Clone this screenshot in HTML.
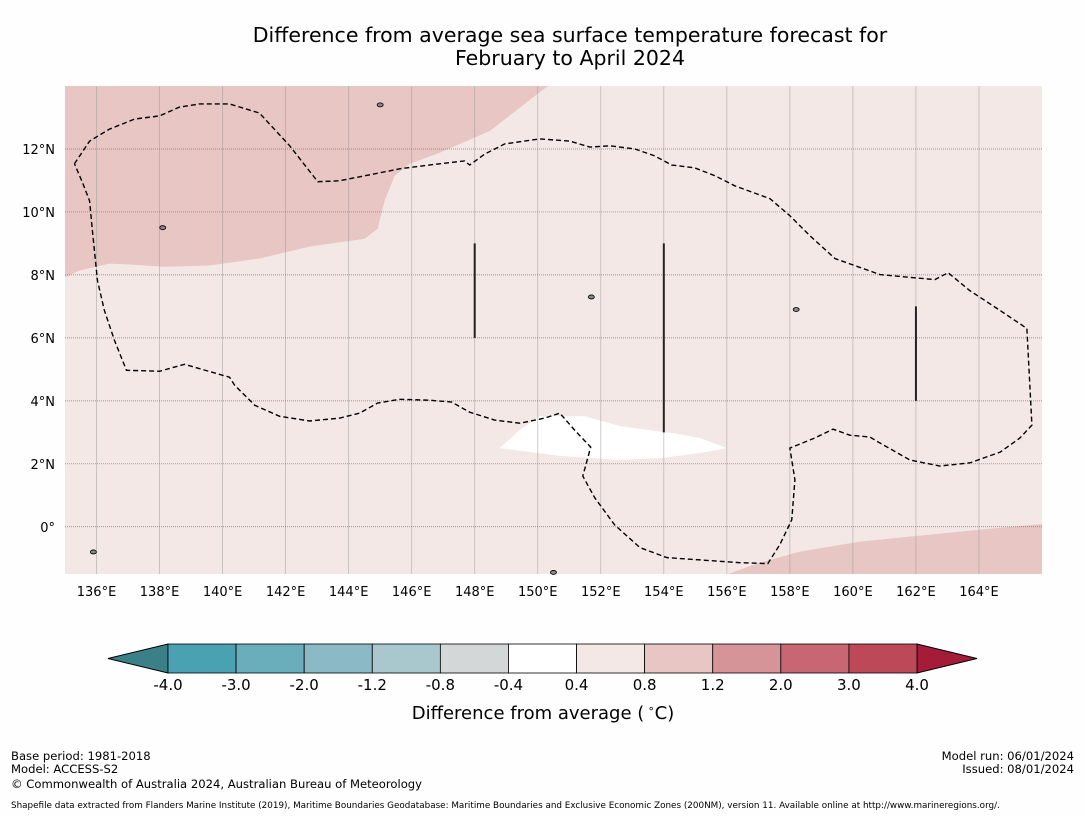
<!DOCTYPE html>
<html><head><meta charset="utf-8"><style>
body{margin:0;background:#fff;}
svg{display:block;font-family:"DejaVu Sans","Liberation Sans",sans-serif;}
</style></head><body>
<svg id="c" width="1085" height="816" viewBox="0 0 1085 816">
<rect width="1085" height="816" fill="#fefefe"/>
<text x="570" y="42" font-size="20.5" text-anchor="middle">Difference from average sea surface temperature forecast for</text>
<text x="570" y="65" font-size="20.5" text-anchor="middle">February to April 2024</text>
<g id="map"></g>
<g id="cbar"></g>
<text x="543" y="719" font-size="18" text-anchor="middle">Difference from average (<tspan font-size="11" dy="-7"> ∘</tspan><tspan dy="7">C)</tspan></text>
<g font-size="11.6">
<text x="11" y="760">Base period: 1981-2018</text>
<text x="11" y="773">Model: ACCESS-S2</text>
<text x="11" y="788">© Commonwealth of Australia 2024, Australian Bureau of Meteorology</text>
<text x="1074" y="760" text-anchor="end">Model run: 06/01/2024</text>
<text x="1074" y="773" text-anchor="end">Issued: 08/01/2024</text>
<text x="11" y="808" font-size="8.8">Shapefile data extracted from Flanders Marine Institute (2019), Maritime Boundaries Geodatabase: Maritime Boundaries and Exclusive Economic Zones (200NM), version 11. Available online at http://www.marineregions.org/.</text>
</g>
</svg>
<script>
const lonTicks=[136,138,140,142,144,146,148,150,152,154,156,158,160,162,164];
const latTicks=[0,2,4,6,8,10,12];
const cbLevels=["-4.0","-3.0","-2.0","-1.2","-0.8","-0.4","0.4","0.8","1.2","2.0","3.0","4.0"];
const cbColors=["#4aa1b1","#6aaebb","#8bb9c5","#a9c8cd","#d3d7d8","#ffffff","#f4e8e7","#e7c6c3","#d69398","#c86772","#bd4858"];
const warmTopLon=[135,135.46,136.41,137.05,138.16,139.59,141.17,142.76,144.51,144.92,145.14,145.46,145.94,146.89,148.48,150.32,135];
const warmTopLat=[7.92,8.14,8.36,8.33,8.26,8.30,8.52,8.90,9.15,9.47,10.35,11.15,11.53,11.88,12.57,14,14];
const warmBotLon=[156.03,157.05,158.32,160.22,162.13,164.03,166,166];
const warmBotLat=[-1.5,-1.14,-0.79,-0.47,-0.28,-0.09,0.09,-1.5];
const neutralLon=[148.79,149.43,150.06,151.49,152.60,154.51,155.14,156.0,155.14,153.87,152.60,150.70,148.79];
const neutralLat=[2.50,3.07,3.51,3.51,3.20,2.94,2.82,2.50,2.34,2.18,2.12,2.25,2.50];
const contourLon=[135.30,135.78,136.41,137.21,138.0,138.63,139.27,140.22,141.17,142.13,143.02,143.71,144.67,145.62,146.89,147.68,147.84,148.32,148.95,150.06,151.02,151.65,152.29,153.08,153.71,154.25,154.98,155.62,156.25,157.37,158.0,158.63,159.43,160.86,162.60,163.02,163.71,164.67,165.52,165.68,165.30,164.67,163.71,162.76,161.81,160.86,160.54,159.90,159.37,158.79,158.0,158.16,158.06,157.68,157.30,156.41,154.10,153.24,152.44,151.81,151.43,151.68,151.17,150.70,150.22,149.43,148.63,147.84,147.27,146.57,145.62,144.92,144.35,143.71,142.76,141.81,141.02,140.38,140.22,138.79,138.0,136.95,136.57,136.25,136.03,135.87,135.78,135.56,135.30];
const contourLat=[11.53,12.25,12.63,12.95,13.05,13.33,13.43,13.43,13.14,12.10,10.96,10.99,11.18,11.37,11.53,11.62,11.49,11.84,12.16,12.32,12.25,12.06,12.10,12.0,11.78,11.49,11.40,11.15,10.83,10.42,9.88,9.25,8.52,8.01,7.85,8.07,7.50,6.87,6.30,3.23,2.82,2.37,2.03,1.93,2.12,2.66,2.85,2.91,3.10,2.82,2.50,1.49,0.22,-0.57,-1.17,-1.14,-0.98,-0.66,0.06,0.92,1.61,2.53,3.07,3.61,3.45,3.29,3.39,3.64,3.96,4.02,4.05,3.93,3.61,3.45,3.36,3.51,3.86,4.50,4.75,5.16,4.94,4.97,5.92,6.87,7.82,9.40,10.35,10.92,11.53];
const segLon=[148,154,162];
const segLat0=[9,9,7];
const segLat1=[6,3,4];
const islandLon=[145.0,158.2,135.9,150.5,138.1,151.7];
const islandLat=[13.4,6.9,-0.8,-1.45,9.5,7.3];

const NS="http://www.w3.org/2000/svg";
const X0=65,X1=1042,Y0=86,Y1=574,LON0=135,LON1=166,LAT0=-1.5,LAT1=14;
const xs=l=>X0+(l-LON0)/(LON1-LON0)*(X1-X0);
const ys=l=>Y1-(l-LAT0)/(LAT1-LAT0)*(Y1-Y0);
function mk(t,a,p){const e=document.createElementNS(NS,t);for(const k in a)e.setAttribute(k,a[k]);p.appendChild(e);return e;}
const map=document.getElementById('map');
const bg=mk('rect',{x:X0,y:Y0,width:X1-X0,height:Y1-Y0,fill:'#f4e8e7'},map);


function poly(lo,la,fill,name){const p=mk('polygon',{points:lo.map((v,i)=>xs(v)+','+ys(la[i])).join(' '),fill:fill},map);

}
poly(warmTopLon,warmTopLat,'#e7c6c3','anomaly-region-north-west');
poly(warmBotLon,warmBotLat,'#e7c6c3','anomaly-region-south-east');
poly(neutralLon,neutralLat,'#ffffff','neutral-region');
lonTicks.forEach(v=>{const x=xs(v);
const g=mk('line',{x1:x,x2:x,y1:Y0,y2:Y1,stroke:'#999',"stroke-width":0.8,opacity:0.6},map);


const t=mk('text',{x:x,y:596,"font-size":13,"text-anchor":"middle"},map);t.textContent=v+'°E';

});
latTicks.forEach(v=>{const y=ys(v);
const g=mk('line',{x1:X0,x2:X1,y1:y,y2:y,stroke:'#777',"stroke-width":0.7,"stroke-dasharray":"1,1"},map);


const t=mk('text',{x:55,y:y+5,"font-size":13,"text-anchor":"end"},map);t.textContent=v===0?'0°':v+'°N';

});
const cp=mk('polyline',{points:contourLon.map((v,i)=>xs(v)+','+ys(contourLat[i])).join(' '),fill:'none',stroke:'#000',"stroke-width":1.4,"stroke-dasharray":"5,3"},map);


segLon.forEach((v,i)=>{const l=mk('line',{x1:xs(v),x2:xs(v),y1:ys(segLat0[i]),y2:ys(segLat1[i]),stroke:'#222',"stroke-width":2},map);

});
islandLon.forEach((v,i)=>{const c=mk('ellipse',{cx:xs(v),cy:ys(islandLat[i]),rx:3,ry:2,fill:'#888',stroke:'#000',"stroke-width":0.8},map);

});
const cb=document.getElementById('cbar');
const CX0=168,CX1=917,CY0=644,CY1=673,n=cbColors.length,w=(CX1-CX0)/n;
const la=mk('polygon',{points:`108,658.5 ${CX0},${CY0} ${CX0},${CY1}`,fill:'#3b7f87',stroke:'#000',"stroke-width":1},cb);


const ra=mk('polygon',{points:`977,658.5 ${CX1},${CY0} ${CX1},${CY1}`,fill:'#a51c3a',stroke:'#000',"stroke-width":1},cb);


cbColors.forEach((c,i)=>{const r=mk('rect',{x:CX0+i*w,y:CY0,width:w,height:CY1-CY0,fill:c,stroke:'#000',"stroke-width":0.8},cb);

});
cbLevels.forEach((s,i)=>{const t=mk('text',{x:CX0+i*w,y:690,"font-size":15,"text-anchor":"middle"},cb);t.textContent=s;

});
</script>
</body></html>
